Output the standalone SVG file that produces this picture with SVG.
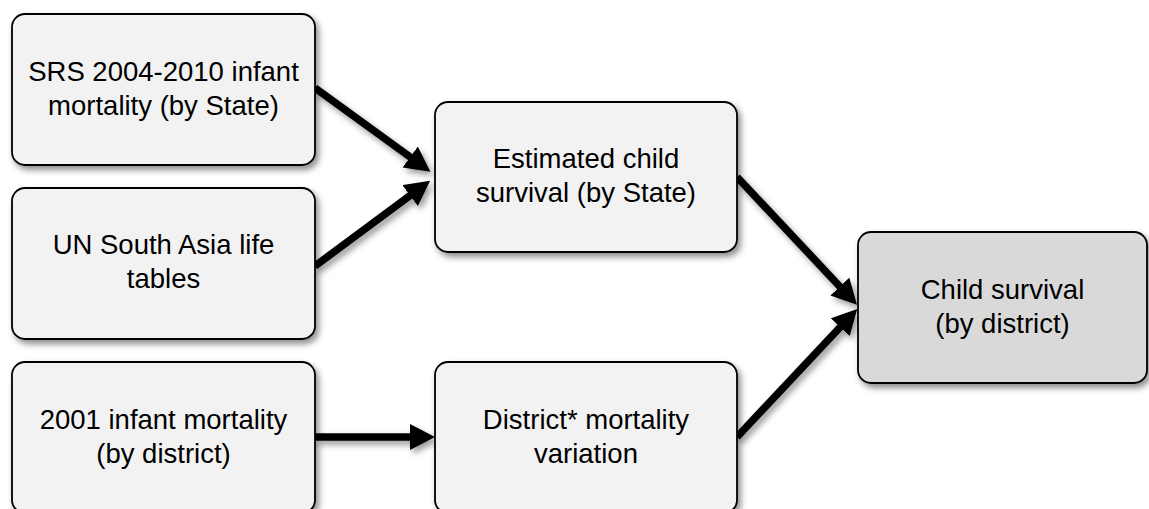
<svg xmlns="http://www.w3.org/2000/svg" width="1149" height="509" viewBox="0 0 1149 509">
  <defs>
    <filter id="shadow" x="-10%" y="-10%" width="130%" height="140%">
      <feDropShadow dx="3" dy="4" stdDeviation="3" flood-color="#000" flood-opacity="0.45"/>
    </filter>
    <filter id="lshadow" filterUnits="userSpaceOnUse" x="0" y="0" width="1149" height="509">
      <feDropShadow dx="3" dy="4" stdDeviation="3" flood-color="#000" flood-opacity="0.4"/>
    </filter>
    <marker id="arrow" markerUnits="userSpaceOnUse" markerWidth="28" markerHeight="28" refX="3" refY="13" orient="auto">
      <path d="M0,0 L25,13 L0,26 Z" fill="#000"/>
    </marker>
  </defs>
  <style>
    .box { fill: #f2f2f2; stroke: #000; stroke-width: 1.8; filter: url(#shadow); }
    .final { fill: #d9d9d9; }
    .lbl { font-family: "Liberation Sans", Arial, sans-serif; font-size: 27.5px; fill: #000; text-anchor: middle; }
    .conn { stroke: #000; stroke-width: 7.5; fill: none; marker-end: url(#arrow); }
  </style>
  <rect width="1149" height="509" fill="#fff"/>

  <g id="connectors" filter="url(#lshadow)">
    <line class="conn" x1="315" y1="88" x2="412.6" y2="158.8"/>
    <line class="conn" x1="315" y1="266" x2="412.5" y2="193.8"/>
    <line class="conn" x1="315" y1="437" x2="413" y2="437"/>
    <line class="conn" x1="737" y1="177" x2="841.9" y2="288.7"/>
    <line class="conn" x1="737" y1="437" x2="842.2" y2="325"/>
  </g>

  <g id="node-srs">
    <rect class="box" x="12" y="14" width="303" height="151" rx="13"/>
    <text class="lbl" x="163.5" y="81">SRS 2004-2010 infant<tspan x="163.5" dy="34">mortality (by State)</tspan></text>
  </g>
  <g id="node-un">
    <rect class="box" x="12" y="188" width="303" height="151" rx="13"/>
    <text class="lbl" x="163.5" y="254">UN South Asia life<tspan x="163.5" dy="34">tables</tspan></text>
  </g>
  <g id="node-2001">
    <rect class="box" x="12" y="362" width="303" height="151" rx="13"/>
    <text class="lbl" x="163.5" y="429">2001 infant mortality<tspan x="163.5" dy="34">(by district)</tspan></text>
  </g>
  <g id="node-estimated">
    <rect class="box" x="435" y="102" width="302" height="150" rx="13"/>
    <text class="lbl" x="586" y="168">Estimated child<tspan x="586" dy="34">survival (by State)</tspan></text>
  </g>
  <g id="node-district">
    <rect class="box" x="435" y="362" width="302" height="151" rx="13"/>
    <text class="lbl" x="586" y="429">District* mortality<tspan x="586" dy="34">variation</tspan></text>
  </g>
  <g id="node-child">
    <rect class="box final" x="858" y="232" width="289" height="151" rx="13"/>
    <text class="lbl" x="1002.5" y="299">Child survival<tspan x="1002.5" dy="34">(by district)</tspan></text>
  </g>
</svg>
